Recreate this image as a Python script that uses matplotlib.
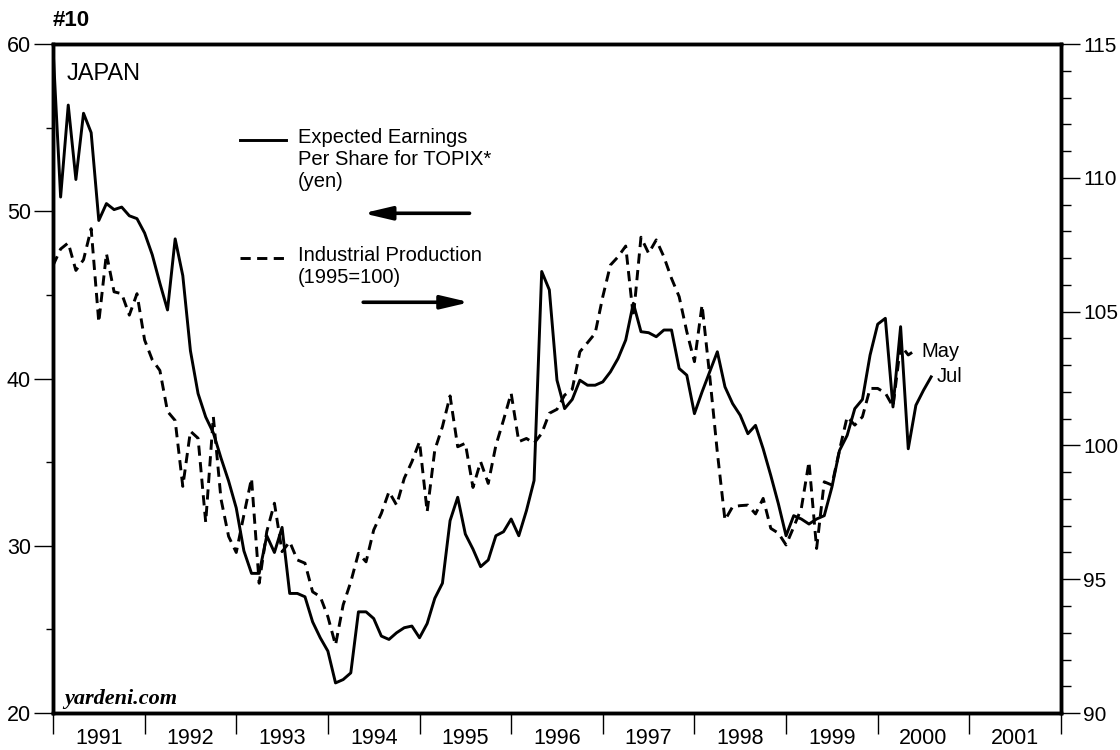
import numpy as np
import matplotlib
matplotlib.use("Agg")
import matplotlib.pyplot as plt
from matplotlib.ticker import MultipleLocator, FixedLocator, NullFormatter

plt.rcParams['font.family'] = ['Liberation Sans', 'DejaVu Sans']

# monthly data starting Jan 1991
eps = [59.8, 50.85, 56.35, 51.9, 55.86, 54.7, 49.45, 50.46, 50.1, 50.25, 49.73, 49.56,
       48.7, 47.4, 45.7, 44.1, 48.35, 46.15, 41.66, 39.1, 37.7, 36.75, 35.25, 33.87,
       32.26, 29.7, 28.35, 28.35, 30.6, 29.6, 31.1, 27.15, 27.15, 26.95, 25.45, 24.5,
       23.7, 21.8, 22.0, 22.4, 26.05, 26.05, 25.65, 24.6, 24.4, 24.8, 25.1, 25.2,
       24.5, 25.35, 26.86, 27.76, 31.5, 32.9, 30.7, 29.8, 28.75, 29.15, 30.6, 30.84,
       31.6, 30.6, 32.1, 33.9, 46.4, 45.3, 39.9, 38.2, 38.75, 39.9, 39.6, 39.6,
       39.8, 40.4, 41.2, 42.3, 44.5, 42.8, 42.74, 42.5, 42.9, 42.9, 40.6, 40.2,
       37.9, 39.2, 40.4, 41.6, 39.5, 38.5, 37.8, 36.7, 37.2, 35.8, 34.2, 32.5,
       30.6, 31.8, 31.6, 31.3, 31.6, 31.8, 33.5, 35.7, 36.6, 38.2, 38.75, 41.4,
       43.25, 43.6, 38.3, 43.1, 35.8, 38.4, 39.3, 40.1]

ip = [106.72, 107.34, 107.57, 106.54, 106.94, 108.1, 104.6, 107.17, 105.74, 105.67, 104.87, 105.67,
      103.94, 103.2, 102.8, 101.27, 100.93, 98.47, 100.53, 100.27, 97.13, 101.07, 98.0, 96.6,
      96.0, 97.4, 98.77, 94.85, 96.78, 97.84, 96.03, 96.4, 95.72, 95.6, 94.53, 94.35,
      93.6, 92.54, 94.04, 94.9, 95.97, 95.65, 96.84, 97.46, 98.27, 97.77, 98.77, 99.39,
      100.14, 97.52, 99.83, 100.7, 101.85, 99.95, 100.08, 98.43, 99.39, 98.58, 100.0, 100.95,
      101.95, 100.14, 100.26, 100.08, 100.45, 101.2, 101.35, 101.88, 102.1, 103.5, 103.84, 104.19,
      105.56, 106.74, 107.05, 107.45, 104.8, 107.78, 107.18, 107.68, 107.05, 106.24, 105.56, 104.25,
      103.13, 105.25, 102.6, 99.74, 97.21, 97.71, 97.75, 97.77, 97.44, 98.02, 96.9, 96.72,
      96.28, 96.95, 97.65, 99.39, 96.15, 98.64, 98.52, 99.83, 101.07, 100.76, 101.07, 102.13,
      102.13, 101.96, 101.45, 103.75, 103.38, 103.57]

years = list(range(1991, 2002))

t_eps = 1991 + np.arange(len(eps)) / 12
t_ip = 1991 + np.arange(len(ip)) / 12

dash = (0, (3.5, 2.2))

fig = plt.figure(figsize=(11.2, 7.5), dpi=100)
ax = fig.add_axes([0.0473, 0.0493, 0.9, 0.892])
ax2 = ax.twinx()

ax.plot(t_eps, eps, color='black', lw=2.1, zorder=3)
ax2.plot(t_ip, ip, color='black', lw=2.1, ls=dash, zorder=3)

ax.set_xlim(1991, 2002)
ax.set_ylim(20, 60)
ax2.set_ylim(90, 115)

for a in (ax, ax2):
    for s in a.spines.values():
        s.set_linewidth(2.5)

# x axis: ticks at year boundaries, labels centered
ax.xaxis.set_major_locator(FixedLocator(range(1991, 2003)))
ax.xaxis.set_major_formatter(NullFormatter())
ax.xaxis.set_minor_locator(FixedLocator([y + 0.5 for y in years]))
ax.set_xticklabels([str(y) for y in years], minor=True)
ax.tick_params(axis='x', which='major', direction='out', length=15, width=1, top=False)
ax.tick_params(axis='x', which='minor', length=0, labelsize=15.5, pad=11)

ax.yaxis.set_major_locator(MultipleLocator(10))
ax.yaxis.set_minor_locator(MultipleLocator(5))
ax.tick_params(axis='y', which='major', direction='out', length=14, width=1, labelsize=15.5, pad=2)
ax.tick_params(axis='y', which='minor', direction='out', length=5, width=1)

ax2.yaxis.set_major_locator(MultipleLocator(5))
ax2.yaxis.set_minor_locator(MultipleLocator(1))
ax2.tick_params(axis='y', which='major', direction='out', length=14, width=1, labelsize=15, pad=2)
ax2.tick_params(axis='y', which='minor', direction='out', length=7, width=1)

# annotations
fig.text(0.047, 0.972, '#10', fontsize=16, fontweight='bold', ha='left', va='center')
ax.text(0.014, 0.972, 'JAPAN', transform=ax.transAxes, fontsize=17, va='top')
ax.text(0.011, 0.013, 'yardeni.com', transform=ax.transAxes, fontsize=16,
        family='Liberation Serif', style='italic', fontweight='bold')

ax.plot([0.186, 0.231], [0.856, 0.856], transform=ax.transAxes, color='black', lw=2.1)
ax.text(0.243, 0.874, 'Expected Earnings\nPer Share for TOPIX*\n(yen)', transform=ax.transAxes,
        fontsize=14.5, va='top', linespacing=1.2)
ax.annotate('', xy=(0.305, 0.747), xytext=(0.416, 0.747), xycoords='axes fraction',
            arrowprops=dict(arrowstyle='-|>,head_length=1.7,head_width=0.4', lw=2.6, color='black'))

ax.plot([0.186, 0.231], [0.68, 0.68], transform=ax.transAxes, color='black', lw=2.1, ls=dash)
ax.text(0.243, 0.698, 'Industrial Production\n(1995=100)', transform=ax.transAxes,
        fontsize=14.5, va='top', linespacing=1.2)
ax.annotate('', xy=(0.416, 0.614), xytext=(0.305, 0.614), xycoords='axes fraction',
            arrowprops=dict(arrowstyle='-|>,head_length=1.7,head_width=0.4', lw=2.6, color='black'))

ax2.text(t_ip[-1] + 0.06, ip[-1] - 0.05, 'May', fontsize=14.5, va='center')
ax.text(t_eps[-1] + 0.06, eps[-1] + 0.0, 'Jul', fontsize=14.5, va='center')

fig.savefig('out.png', dpi=100)
